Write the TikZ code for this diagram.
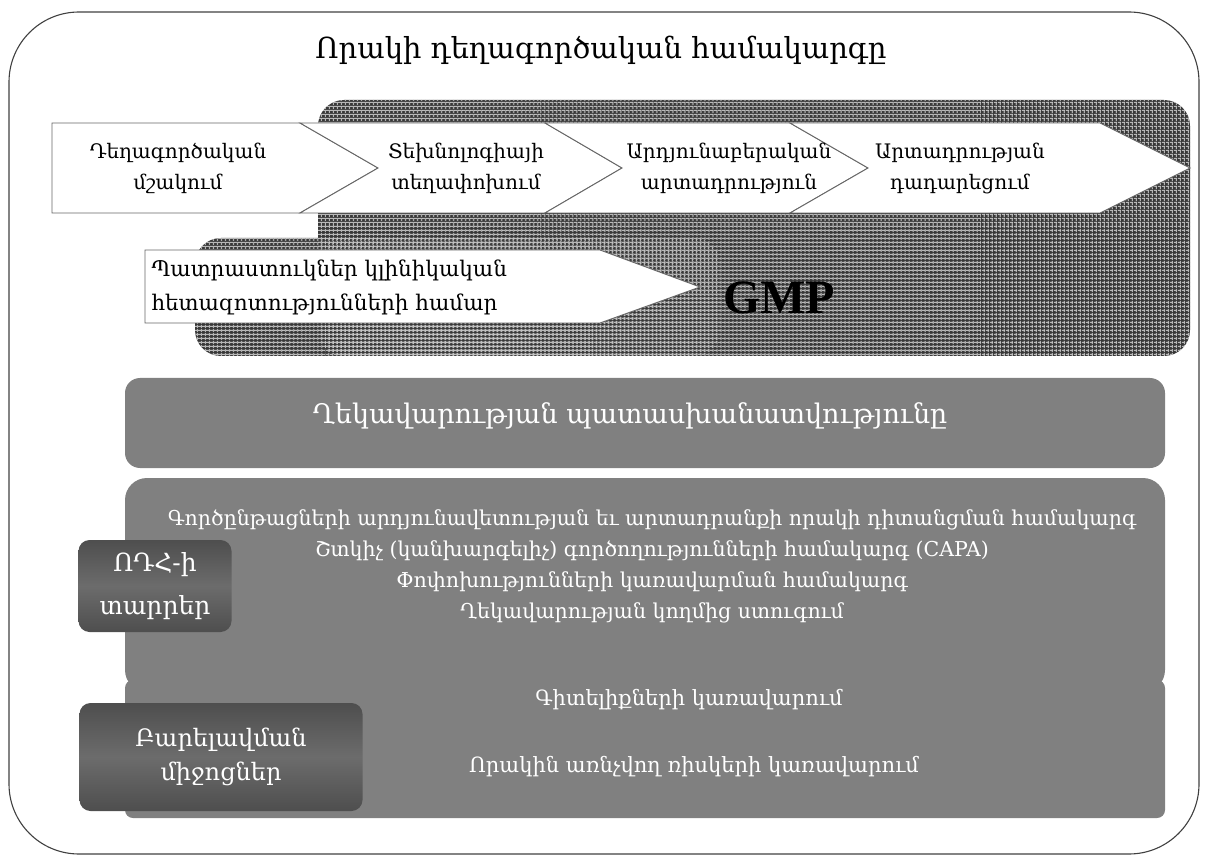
\documentclass[tikz,border=0pt]{standalone}
\usepackage{fontspec}
\setmainfont{DejaVu Serif}
\newfontfamily\gmpfont{Liberation Serif}
\usetikzlibrary{patterns.meta, positioning, backgrounds}
\definecolor{panelGray}{RGB}{128,128,128}
\definecolor{tagDark}{RGB}{78,78,78}
\definecolor{hatchDark}{RGB}{56,56,56}

\begin{document}
\begin{tikzpicture}[
    % one unit = one pixel of the layout, y grows downwards
    x=1pt, y=-1pt,
    % --- Frame and background styles ---
    outerFrame/.style={draw=black!75, line width=1.1pt, rounded corners=70pt},
    gmpArea/.style={fill=hatchDark, rounded corners=26pt},
    gmpGridH/.style={pattern={Lines[distance=4pt, line width=1.2pt, angle=0]}, pattern color=white!72!black, rounded corners=26pt},
    gmpGridV/.style={pattern={Lines[distance=4pt, line width=1.2pt, angle=90]}, pattern color=white!72!black, rounded corners=26pt},
    % --- Process stages (chevrons) ---
    stage/.style={draw=black!60, fill=white, line width=0.9pt, line join=miter},
    stageText/.style={font=\fontsize{20}{31}\selectfont, align=center, text=black},
    % --- Grey panels ---
    panel/.style={fill=panelGray, draw=none},
    panelText/.style={font=\fontsize{20.5}{31}\selectfont, align=center, text=white},
    tagBox/.style={
        rounded corners=11pt,
        top color=tagDark, bottom color=tagDark, middle color=tagDark!40!panelGray,
        text=white, align=center,
        font=\fontsize{25}{43}\selectfont
    }
]

    \useasboundingbox (0,0) rectangle (1210,858);

    % --- Outer frame and title ---
    \draw [outerFrame] (9,12) rectangle (1199,854);
    \node (title) [font=\fontsize{29}{32}\selectfont] at (601,50) {Որակի դեղագործական համակարգը};

    % --- GMP hatched area ---
    \foreach \areaStyle in {gmpArea, gmpGridH, gmpGridV} {
        \fill [\areaStyle] (318,100) rectangle (1190,356);
        \fill [\areaStyle] (195,238) rectangle (720,356);
    }

    % --- Life cycle stages ---
    \filldraw [stage] (52,123) -- (300,123) -- (378,168) -- (300,213) -- (52,213) -- cycle;
    \filldraw [stage] (300,123) -- (545,123) -- (622,168) -- (545,213) -- (300,213) -- (378,168) -- cycle;
    \filldraw [stage] (545,123) -- (790,123) -- (868,168) -- (790,213) -- (545,213) -- (622,168) -- cycle;
    \filldraw [stage] (790,123) -- (1100,123) -- (1190,168) -- (1100,213) -- (790,213) -- (868,168) -- cycle;

    \node (stageDev) [stageText] at (178,168) {Դեղագործական\\մշակում};
    \node (stageTransfer) [stageText] at (466,168) {Տեխնոլոգիայի\\տեղափոխում};
    \node (stageCommercial) [stageText] at (729,168) {Արդյունաբերական\\արտադրություն};
    \node (stageEnd) [stageText] at (960,168) {Արտադրության\\դադարեցում};

    % clinical supplies arrow
    \filldraw [stage] (145,250) -- (600,250) -- (700,287) -- (600,323) -- (145,323) -- cycle;
    \node (clinical) [stageText, align=left, anchor=west, font=\fontsize{21.5}{34}\selectfont] at (148,287)
        {Պատրաստուկներ կլինիկական\\հետազոտությունների համար};

    \node (gmp) [font=\gmpfont\bfseries\fontsize{48}{48}\selectfont, text=black] at (779,298) {GMP};

    % --- Management responsibility ---
    \fill [panel, rounded corners=15pt] (125,378) rectangle (1165,468);
    \node (mgmtResp) [panelText, font=\fontsize{27}{30}\selectfont] at (630,416)
        {Ղեկավարության պատասխանատվությունը};

    % --- PQS elements ---
    \fill [panel, rounded corners=22pt] (125,478) rectangle (1165,692);
    \node (elementsList) [panelText] at (652,566) {%
        Գործընթացների արդյունավետության եւ արտադրանքի որակի դիտանցման համակարգ\\
        Շտկիչ (կանխարգելիչ) գործողությունների համակարգ (CAPA)\\
        Փոփոխությունների կառավարման համակարգ\\
        Ղեկավարության կողմից ստուգում};

    % --- Enablers ---
    \fill [panel, rounded corners=8pt] (125,680) rectangle (1165,818);
    \node (knowledge) [panelText, font=\fontsize{21}{26}\selectfont] at (689,700) {Գիտելիքների կառավարում};
    \node (riskMgmt) [panelText, font=\fontsize{21}{26}\selectfont] at (694,767) {Որակին առնչվող ռիսկերի կառավարում};

    % --- Left tags ---
    \node (tagElements) [tagBox, minimum width=153pt, minimum height=92pt] at (155,586)
        {ՈԴՀ-ի\\տարրեր};
    \node (tagEnablers) [tagBox, minimum width=283pt, minimum height=108pt, font=\fontsize{24}{34}\selectfont] at (221,757)
        {Բարելավման\\միջոցներ};

\end{tikzpicture}
\end{document}
